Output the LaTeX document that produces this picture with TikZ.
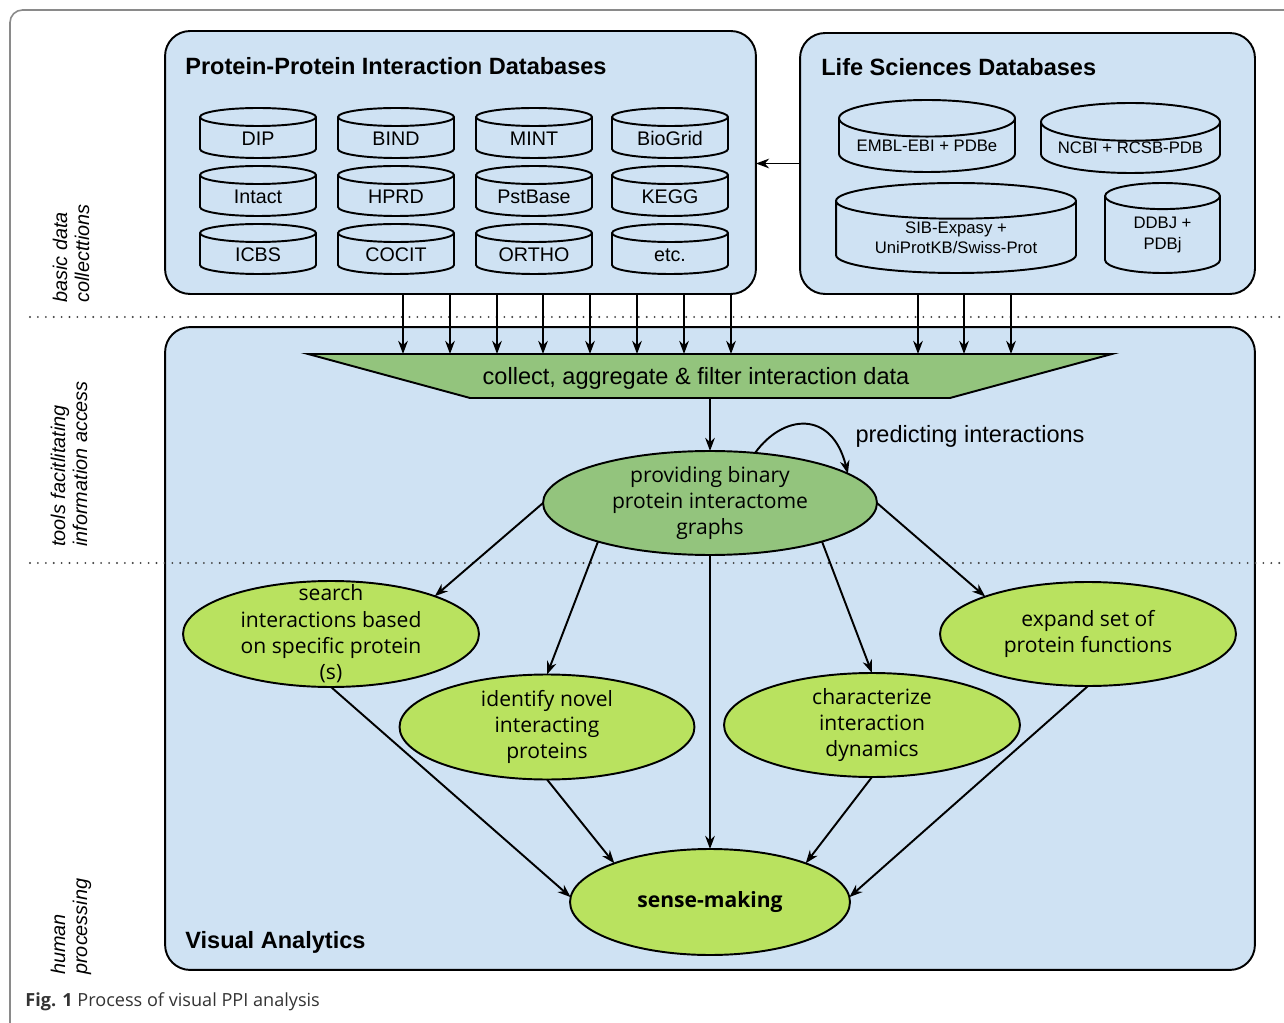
\documentclass[tikz,border=0pt]{standalone}
\usepackage{fontspec}
\setmainfont{Liberation Sans}
\newfontfamily\osans{Open Sans}
\usetikzlibrary{shapes.geometric,arrows.meta,positioning}
\definecolor{boxblue}{HTML}{CFE2F3}
\definecolor{dgreen}{HTML}{93C47D}
\definecolor{lgreen}{HTML}{B9E25F}
\definecolor{framegray}{HTML}{8A8A8A}
\definecolor{capgray}{HTML}{333333}
\newcommand\etxtfont{\osans\fontsize{12pt}{15pt}\selectfont}
\begin{document}
\begin{tikzpicture}[>={Stealth[length=7.5pt,width=5.5pt]},x=0.02cm,y=-0.02cm,
	box/.style={draw,line width=1.1pt,rounded corners=0.5cm,fill=boxblue,inner sep=0pt,outer sep=0pt},
	db/.style={cylinder,shape border rotate=90,draw,line width=1.1pt,fill=boxblue,inner sep=0pt,outer sep=0pt,align=center,anchor=shape center},
	dbsmall/.style={minimum width=2.32cm,minimum height=1.0cm,aspect=0.2,text width=1.8cm,text height=8pt,text depth=0pt,font=\fontsize{11.2pt}{13pt}\selectfont},
	dbbig/.style={font=\fontsize{9.5pt}{11.5pt}\selectfont},
	ttl/.style={inner sep=0pt,font=\fontsize{13.4pt}{16pt}\selectfont\bfseries},
	txt/.style={inner sep=0pt,font=\fontsize{13.4pt}{16pt}\selectfont},
	ell/.style={ellipse,draw,line width=1.1pt,inner sep=0pt,outer sep=0pt},
	etxt/.style={inner sep=0pt,align=center,font=\etxtfont},
	side/.style={inner sep=0pt,rotate=90,anchor=west,align=left,font=\fontsize{11.3pt}{12.6pt}\selectfont\itshape},
	conn/.style={line width=1.1pt},
	sep/.style={line width=1.2pt,dash pattern=on 0pt off 4.5pt,line cap=round,black!75}]
	\useasboundingbox (0,0) rectangle (1284,1023);
	\draw[framegray,line width=0.9pt,rounded corners=0.25cm] (10,1023) -- (10,10) -- (1284,10);
	\node[box,minimum width=21.8cm,minimum height=12.86cm] (va) at (710,648.5) {};
	\node[box,minimum width=11.82cm,minimum height=5.26cm] (ppi) at (460.5,162.5) {};
	\node[box,minimum width=9.1cm,minimum height=5.22cm] (lsd) at (1027.5,163.5) {};
	\node[ttl,anchor=west] (ppitl) at (185,66) {Protein-Protein Interaction Databases};
	\node[ttl,anchor=west] (lsdtl) at (821,67) {Life Sciences Databases};
	\node[ttl,anchor=west] (vatl) at (185,942) {Visual Analytics};
	\foreach \nm/\txt/\x/\y in {dip/DIP/258/133,bind/BIND/396/133,mint/MINT/534/133,biogrid/BioGrid/670/133,
		intact/Intact/258/191,hprd/HPRD/396/191,pstbase/PstBase/534/191,kegg/KEGG/670/191,
		icbs/ICBS/258/249,cocit/COCIT/396/249,ortho/ORTHO/534/249,etcdb/etc./670/249}
		\node[db,dbsmall] (\nm) at (\x,\y) {\txt};
	\node[db,dbbig,minimum width=3.52cm,minimum height=1.44cm,aspect=0.26] (embl) at (927,136) {EMBL-EBI + PDBe};
	\node[db,dbbig,minimum width=3.58cm,minimum height=1.4cm,aspect=0.26] (ncbi) at (1130.5,138) {NCBI + RCSB-PDB};
	\node[db,dbbig,minimum width=4.8cm,minimum height=1.8cm,aspect=0.22] (sib) at (956,228) {SIB-Expasy +\\UniProtKB/Swiss-Prot};
	\node[db,dbbig,minimum width=2.3cm,minimum height=1.8cm,aspect=0.45] (ddbj) at (1162.5,228) {DDBJ +\\PDBj};
	\draw[->,conn] (lsd.west) -- (lsd.west -| ppi.east);
	\draw[sep] (30,317) -- (1284,317);
	\draw[sep] (30,563) -- (1284,563);
	\node[minimum width=16.08cm,minimum height=0.88cm,inner sep=0pt,outer sep=0pt] (coll) at (710,376) {};
	\draw[fill=dgreen,line width=1.1pt] (coll.north west) -- (coll.north east) -- ([xshift=-3.24cm]coll.south east) -- ([xshift=3.24cm]coll.south west) -- cycle;
	\node[txt] (colltxt) at ([xshift=-0.28cm,yshift=-0.05cm]coll.center) {collect, aggregate \& filter interaction data};
	\foreach \x in {403,450,497,543,590,637,684,731}
		\draw[->,conn] (ppi.south -| \x,0) -- (coll.north -| \x,0);
	\foreach \x in {918,964,1011}
		\draw[->,conn] (lsd.south -| \x,0) -- (coll.north -| \x,0);
	\node[ell,fill=dgreen,minimum width=6.68cm,minimum height=2.08cm,label={[etxt]center:providing binary\\protein interactome\\graphs}] (prov) at (710,503) {};
	\draw[->,conn] (coll) -- (prov);
	\draw[->,conn] (prov.48) .. controls +(28,-39) and +(-16,-64) .. (prov.12);
	\node[txt] (pred) at (970,436) {predicting interactions};
	\node[ell,fill=lgreen,minimum width=5.92cm,minimum height=2.12cm,label={[etxt]center:search\\interactions based\\on specific protein\\(s)}] (srch) at (331,634) {};
	\node[ell,fill=lgreen,minimum width=5.9cm,minimum height=2.1cm,label={[etxt]center:identify novel\\interacting\\proteins}] (iden) at (547,727) {};
	\node[ell,fill=lgreen,minimum width=5.92cm,minimum height=2.08cm,label={[etxt]center:characterize\\interaction\\dynamics}] (chr) at (872,725) {};
	\node[ell,fill=lgreen,minimum width=5.92cm,minimum height=2.08cm,label={[etxt]center:expand set of\\protein functions}] (expd) at (1088,634) {};
	\node[ell,fill=lgreen,minimum width=5.6cm,minimum height=2.12cm,label={[etxt,font=\etxtfont\bfseries]center:sense-making}] (sense) at (710,902) {};
	\draw[->,conn] (prov.west) -- (srch.20);
	\draw[->,conn] (prov.199) -- (iden.north);
	\draw[->,conn] (prov.south) -- (sense.north);
	\draw[->,conn] (prov.341) -- (chr.north);
	\draw[->,conn] (prov.east) -- (expd.160);
	\draw[->,conn] (srch.south) -- (sense.178);
	\draw[->,conn] (iden.south) -- (sense.158);
	\draw[->,conn] (chr.south) -- (sense.22);
	\draw[->,conn] (expd.south) -- (sense.2);
	\node[side] (lbasic) at (71,303) {basic data\\collecttions};
	\node[side] (ltools) at (69,547) {tools facitlitating\\information access};
	\node[side] (lhuman) at (71,975) {human\\processing};
	\node[anchor=west,inner sep=0pt,text=capgray,font=\osans\fontsize{10.3pt}{12pt}\selectfont] (cap) at (25,1002) {\textbf{Fig. 1} Process of visual PPI analysis};
\end{tikzpicture}
\end{document}
